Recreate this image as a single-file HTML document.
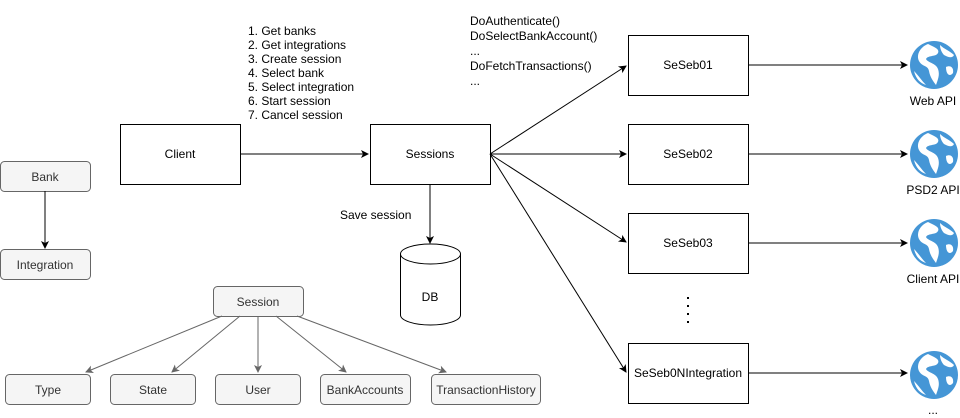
<!DOCTYPE html>
<html><head><style>
body{margin:0;background:#fff;}
svg{display:block;font-family:"Liberation Sans",Arial,sans-serif;}
</style></head><body>
<svg width="960" height="418" viewBox="0 0 960 418" xmlns="http://www.w3.org/2000/svg">
<defs>
<marker id="a" markerWidth="10" markerHeight="10" refX="8" refY="5" orient="auto" markerUnits="userSpaceOnUse"><path d="M1,1 L9,5 L1,9 L3,5 Z" fill="#000"/></marker>
<marker id="g" markerWidth="10" markerHeight="10" refX="8" refY="5" orient="auto" markerUnits="userSpaceOnUse"><path d="M1,1 L9,5 L1,9 L3,5 Z" fill="#666"/></marker>
<g id="globe">
<circle cx="0" cy="0" r="24" fill="#4596d6"/>
<path d="M-6,-21 C-14,-18 -18,-10 -15,-4 C-12,2 -6,0 -5,6 C-4,12 -1,16 2,20 C4,14 6,10 4,4 C2,-2 -6,-2 -8,-6 C-6,-10 2,-8 4,-12 C6,-16 0,-18 -6,-21 Z" fill="#fff"/>
<path d="M6,-20 C10,-16 16,-14 20,-10 C18,-6 14,-8 10,-10 C8,-12 6,-16 6,-20 Z" fill="#fff"/>
<path d="M12,2 C16,0 20,2 19,8 C16,12 12,10 12,2 Z" fill="#fff"/>
<path d="M-20,6 C-16,10 -12,16 -8,20 C-14,18 -18,14 -20,6 Z" fill="#fff"/>
</g>
</defs>
<g font-size="12" fill="#000">
<rect x="0.5" y="161.5" width="90" height="30" rx="4" fill="#f5f5f5" stroke="#666"/>
<text x="45" y="181" text-anchor="middle" fill="#333">Bank</text>
<line x1="45" y1="191" x2="45" y2="248" stroke="#000" marker-end="url(#a)"/>
<rect x="0.5" y="249.5" width="90" height="30" rx="4" fill="#f5f5f5" stroke="#666"/>
<text x="45" y="269" text-anchor="middle" fill="#333">Integration</text>

<rect x="213.5" y="286.5" width="90" height="30" rx="4" fill="#f5f5f5" stroke="#666"/>
<text x="258" y="306" text-anchor="middle" fill="#333">Session</text>
<g stroke="#666" fill="none">
<line x1="222" y1="316" x2="86" y2="372" marker-end="url(#g)"/>
<line x1="240" y1="316" x2="172" y2="372" marker-end="url(#g)"/>
<line x1="258" y1="316" x2="258" y2="372" marker-end="url(#g)"/>
<line x1="276" y1="316" x2="346" y2="372" marker-end="url(#g)"/>
<line x1="297" y1="316" x2="446" y2="372" marker-end="url(#g)"/>
</g>
<rect x="5.5" y="374.5" width="85" height="30" rx="4" fill="#f5f5f5" stroke="#666"/>
<text x="48" y="394" text-anchor="middle" fill="#333">Type</text>
<rect x="110.5" y="374.5" width="85" height="30" rx="4" fill="#f5f5f5" stroke="#666"/>
<text x="153" y="394" text-anchor="middle" fill="#333">State</text>
<rect x="215.5" y="374.5" width="85" height="30" rx="4" fill="#f5f5f5" stroke="#666"/>
<text x="258" y="394" text-anchor="middle" fill="#333">User</text>
<rect x="320.5" y="374.5" width="90" height="30" rx="4" fill="#f5f5f5" stroke="#666"/>
<text x="365" y="394" text-anchor="middle" fill="#333">BankAccounts</text>
<rect x="431.5" y="374.5" width="109" height="30" rx="4" fill="#f5f5f5" stroke="#666"/>
<text x="486" y="394" text-anchor="middle" fill="#333">TransactionHistory</text>

<rect x="120.5" y="124.5" width="120" height="60" fill="#fff" stroke="#000"/>
<text x="180" y="158" text-anchor="middle">Client</text>
<line x1="240" y1="154" x2="368" y2="154" stroke="#000" marker-end="url(#a)"/>
<g font-size="12">
<text x="248" y="35">1. Get banks</text>
<text x="248" y="49">2. Get integrations</text>
<text x="248" y="63">3. Create session</text>
<text x="248" y="77">4. Select bank</text>
<text x="248" y="91">5. Select integration</text>
<text x="248" y="105">6. Start session</text>
<text x="248" y="119">7. Cancel session</text>
</g>
<rect x="370.5" y="124.5" width="120" height="60" fill="#fff" stroke="#000"/>
<text x="430" y="158" text-anchor="middle">Sessions</text>
<line x1="430" y1="184" x2="430" y2="243" stroke="#000" marker-end="url(#a)"/>
<text x="340" y="219">Save session</text>
<path d="M400.5,254 A30,10 0 0 1 460.5,254 L460.5,315 A30,10 0 0 1 400.5,315 Z" fill="#fff" stroke="#000"/>
<path d="M400.5,254 A30,10 0 0 0 460.5,254" fill="none" stroke="#000"/>
<text x="430" y="301" text-anchor="middle">DB</text>

<g font-size="12">
<text x="470" y="25">DoAuthenticate()</text>
<text x="470" y="40">DoSelectBankAccount()</text>
<text x="470" y="55">...</text>
<text x="470" y="70">DoFetchTransactions()</text>
<text x="470" y="85">...</text>
</g>
<g stroke="#000">
<line x1="490" y1="154" x2="626" y2="66" marker-end="url(#a)"/>
<line x1="490" y1="154" x2="626" y2="154" marker-end="url(#a)"/>
<line x1="490" y1="154" x2="626" y2="242" marker-end="url(#a)"/>
<line x1="490" y1="154" x2="626" y2="372" marker-end="url(#a)"/>
</g>
<rect x="628.5" y="35.5" width="120" height="60" fill="#fff" stroke="#000"/>
<text x="688" y="69" text-anchor="middle">SeSeb01</text>
<rect x="628.5" y="124.5" width="120" height="60" fill="#fff" stroke="#000"/>
<text x="688" y="158" text-anchor="middle">SeSeb02</text>
<rect x="628.5" y="213.5" width="120" height="60" fill="#fff" stroke="#000"/>
<text x="688" y="247" text-anchor="middle">SeSeb03</text>
<rect x="628.5" y="343.5" width="120" height="60" fill="#fff" stroke="#000"/>
<text x="688" y="377" text-anchor="middle">SeSeb0NIntegration</text>
<line x1="688" y1="297" x2="688" y2="325" stroke="#000" stroke-width="2" stroke-dasharray="2,6"/>

<g stroke="#000">
<line x1="748" y1="65" x2="907" y2="65" marker-end="url(#a)"/>
<line x1="748" y1="154" x2="907" y2="154" marker-end="url(#a)"/>
<line x1="748" y1="243" x2="907" y2="243" marker-end="url(#a)"/>
<line x1="748" y1="373" x2="907" y2="373" marker-end="url(#a)"/>
</g>
<use href="#globe" x="934" y="65"/>
<use href="#globe" x="934" y="154"/>
<use href="#globe" x="934" y="243"/>
<use href="#globe" x="934" y="375"/>
<text x="933" y="105" text-anchor="middle" font-size="12">Web API</text>
<text x="933" y="194" text-anchor="middle" font-size="12">PSD2 API</text>
<text x="933" y="283" text-anchor="middle" font-size="12">Client API</text>
<text x="933" y="414" text-anchor="middle" font-size="12">...</text>
</g>
</svg>
</body></html>
